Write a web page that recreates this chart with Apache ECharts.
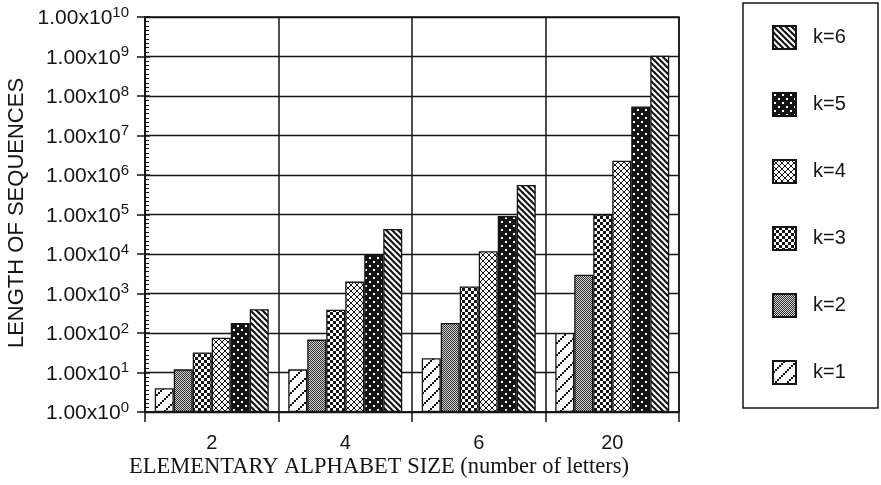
<!DOCTYPE html>
<html>
<head>
<meta charset="utf-8">
<script src="https://cdn.jsdelivr.net/npm/echarts@6/dist/echarts.min.js"></script>
<style>
  html, body { margin: 0; padding: 0; background: #fff; }
  #chart { width: 881px; height: 485px; }
</style>
</head>
<body>
<div id="chart"></div>
<script>
// Alphabet sizes on the x axis
const categories = ['2', '4', '6', '20'];
// Series names, one per word length k
const seriesNames = ['k=1', 'k=2', 'k=3', 'k=4', 'k=5', 'k=6'];
// Sequence lengths per k, across alphabet sizes 2, 4, 6, 20
const k1 = [4, 12, 23, 100];
const k2 = [12, 68, 180, 3000];
const k3 = [32, 390, 1500, 100000];
const k4 = [76, 2000, 11700, 2300000];
const k5 = [180, 9400, 91000, 54000000];
const k6 = [400, 43000, 560000, 1050000000];
const seriesValues = [k1, k2, k3, k4, k5, k6];

const INK = '#151515';
const SANS = '"Liberation Sans", Arial, sans-serif';
const SERIF = '"Liberation Serif", "Times New Roman", serif';

// Small tiles used as repeating bar fills
function tile(size, bg, draw) {
  const c = document.createElement('canvas');
  c.width = c.height = size;
  const g = c.getContext('2d');
  g.fillStyle = bg;
  g.fillRect(0, 0, size, size);
  g.fillStyle = INK;
  g.strokeStyle = INK;
  draw(g, size);
  return { image: c, repeat: 'repeat' };
}

const fills = [
  // k=1: sparse staircase running up to the right
  tile(12, '#fff', (g) => {
    for (let i = 0; i < 6; i++) g.fillRect(i * 2, 10 - i * 2, 2, 2);
  }),
  // k=2: fine dense stipple
  tile(2, '#d0d0d0', (g) => {
    g.fillStyle = '#333';
    g.fillRect(0, 0, 1, 1);
    g.fillRect(1, 1, 1, 1);
  }),
  // k=3: coarse checkerboard
  tile(6, '#fff', (g) => {
    g.fillRect(0, 0, 3, 3);
    g.fillRect(3, 3, 3, 3);
  }),
  // k=4: diagonal lattice
  tile(6, '#fff', (g) => {
    for (let i = 0; i < 6; i++) {
      g.fillRect(i, i, 1, 1);
      g.fillRect(5 - i, i, 1, 1);
    }
  }),
  // k=5: black with scattered white dots
  tile(8, INK, (g) => {
    g.fillStyle = '#fff';
    g.fillRect(1, 1, 2, 2);
    g.fillRect(5, 5, 2, 2);
  }),
  // k=6: stripes running down to the right
  tile(6, '#fff', (g) => {
    g.lineWidth = 2.2;
    [-6, 0, 6].forEach((o) => {
      g.beginPath();
      g.moveTo(o - 1, -1);
      g.lineTo(o + 7, 7);
      g.stroke();
    });
  })
];

const series = seriesNames.map((name, i) => ({
  name: name,
  type: 'bar',
  xAxisIndex: 0,
  yAxisIndex: 0,
  data: seriesValues[i],
  barWidth: 19,
  barGap: '0%',
  itemStyle: { color: fills[i], borderColor: INK, borderWidth: 1.3 }
}));

const chart = echarts.init(document.getElementById('chart'), null, { renderer: 'canvas' });

chart.setOption({
  animation: false,
  backgroundColor: '#fff',
  grid: {
    left: 145, right: 202, top: 17, bottom: 73,
    show: true, borderColor: INK, borderWidth: 1.5, backgroundColor: 'transparent'
  },
  legend: {
    orient: 'vertical',
    left: 772,
    top: 25,
    padding: 0,
    itemWidth: 23,
    itemHeight: 23,
    itemGap: 42,
    icon: 'rect',
    data: seriesNames.slice().reverse(),
    textStyle: { fontFamily: SANS, fontSize: 20, lineHeight: 23, color: INK, padding: [0, 0, 0, 12] }
  },
  xAxis: {
    type: 'category',
    data: categories,
    axisLine: { lineStyle: { color: INK, width: 1.5 } },
    axisTick: { show: true, length: 10, interval: 0, lineStyle: { color: INK, width: 1.5 } },
    axisLabel: { fontFamily: SANS, fontSize: 20, color: INK, margin: 21 },
    splitLine: { show: true, interval: 0, lineStyle: { color: INK, width: 1.5 } }
  },
  yAxis: [
    {
      type: 'log',
      logBase: 10,
      min: 1,
      max: 1e10,
      interval: 1,
      axisLine: { show: true, lineStyle: { color: INK, width: 1.5 } },
      axisTick: { show: true, length: 8, lineStyle: { color: INK, width: 1.5 } },
      splitLine: { show: true, lineStyle: { color: INK, width: 1.4 } },
      axisLabel: {
        margin: 16,
        color: INK,
        formatter: (v) => '{b|1.00x10}{s|' + Math.round(Math.log10(v)) + '}',
        rich: {
          b: { fontFamily: SANS, fontSize: 21, color: INK, lineHeight: 24, verticalAlign: 'bottom' },
          s: { fontFamily: SANS, fontSize: 15, color: INK, lineHeight: 15, verticalAlign: 'top' }
        }
      }
    },
    {
      // exponent scale carrying the ruler ticks on the inner side of the axis
      type: 'value',
      min: 0,
      max: 10,
      interval: 1,
      position: 'left',
      axisLine: { show: false },
      axisLabel: { show: false },
      splitLine: { show: false },
      axisTick: { show: true, inside: true, length: 5, lineStyle: { color: INK, width: 1.5 } },
      minorTick: { show: true, splitNumber: 9, length: 4, lineStyle: { color: INK, width: 1 } }
    }
  ],
  graphic: [
    {
      type: 'rect',
      shape: { x: 743, y: 3, width: 135, height: 405 },
      style: { fill: 'none', stroke: INK, lineWidth: 1.5 }
    },
    {
      type: 'text',
      x: 17,
      y: 213,
      rotation: Math.PI / 2,
      style: {
        text: 'LENGTH OF SEQUENCES',
        fontFamily: SANS, fontSize: 22, fill: INK,
        align: 'center', verticalAlign: 'middle'
      }
    },
    {
      type: 'text',
      x: 129,
      y: 467,
      style: {
        text: 'ELEMENTARY ALPHABET SIZE (number of letters)',
        fontFamily: SERIF, fontSize: 22.5, fill: INK,
        align: 'left', verticalAlign: 'middle'
      }
    }
  ],
  series: series
});
</script>
</body>
</html>
